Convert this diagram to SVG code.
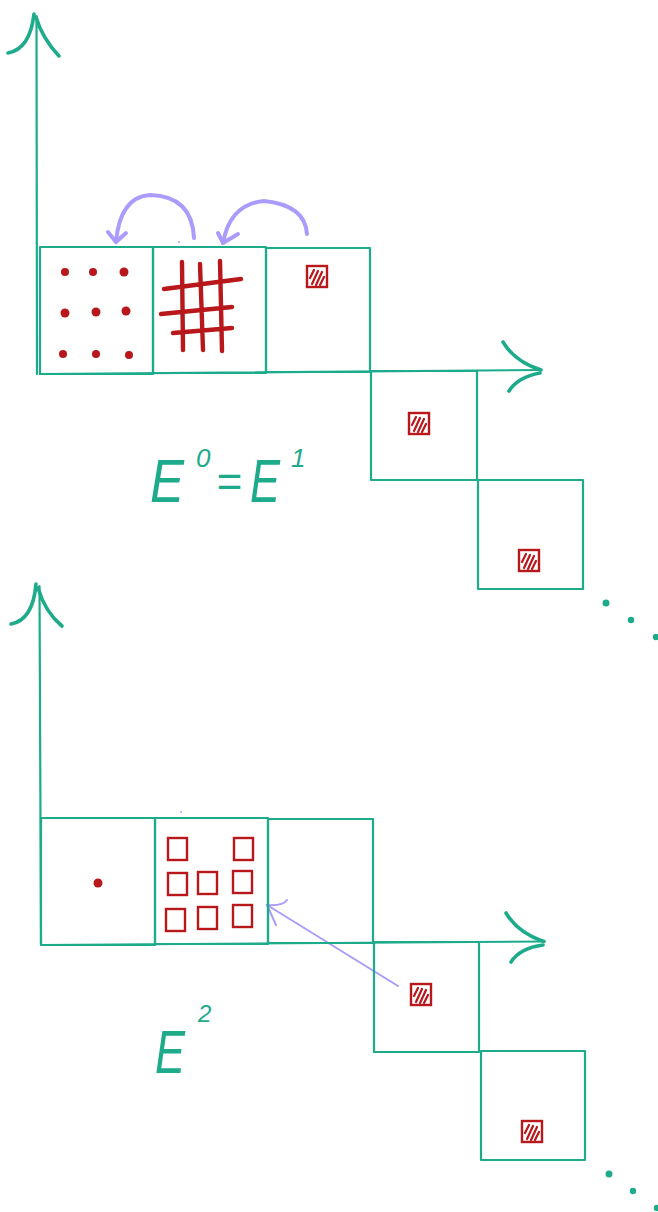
<svg xmlns="http://www.w3.org/2000/svg" width="658" height="1212" viewBox="0 0 658 1212">
<style>
.box{fill:none;stroke:#1dab8b;stroke-width:2.2;stroke-linejoin:round}
.axis{fill:none;stroke:#1dab8b;stroke-width:2.2;stroke-linecap:round}
.wing{fill:none;stroke:#1dab8b;stroke-width:3.6;stroke-linecap:round}
.dot{fill:#b8171b}
.tdot{fill:#1dab8b}
.grid{fill:none;stroke:#b8171b;stroke-width:4.4;stroke-linecap:round}
.sq{fill:none;stroke:#b8171b;stroke-width:2.4}
.arc{fill:none;stroke:#ac9bfc;stroke-width:4;stroke-linecap:round;stroke-linejoin:round}
.thin{fill:none;stroke:#ac9bfc;stroke-width:2;stroke-linecap:round}
.lbl{fill:#1dab8b;font-family:'Liberation Sans',Arial,sans-serif;font-style:italic}
</style>
<defs>
<symbol id="hatch" viewBox="0 0 20 21" overflow="visible">
<rect x="0" y="0" width="20" height="21" fill="#fff" stroke="#b8171b" stroke-width="2.4"/>
<path d="M3,12 L7,4 M5,18 L11,5 M9,19 L15,6 M13,19 L17,11" stroke="#b8171b" stroke-width="2.2" stroke-linecap="round"/>
</symbol>
</defs>

<g id="connectors">
<g id="top-y-axis">
<path class="axis" d="M37,374 L36.5,16"/>
<path class="wing" d="M8,53 Q30,49 34,14"/>
<path class="wing" d="M36,17 Q42,38 59,56"/>
</g>
<g id="top-x-axis">
<path class="axis" d="M40,374 L541,370"/>
<path class="wing" d="M503,342 Q515,362 541,370"/>
<path class="wing" d="M509,391 Q518,377 540,373"/>
</g>
<g id="bottom-y-axis">
<path class="axis" d="M41,944 L39.5,586"/>
<path class="wing" d="M11,624 Q33,620 36,584"/>
<path class="wing" d="M38,588 Q45,612 62,626"/>
</g>
<g id="bottom-x-axis">
<path class="axis" d="M42,945 L544,941.5"/>
<path class="wing" d="M506,913 Q518,933 544,941.5"/>
<path class="wing" d="M511,962 Q520,948 543,945"/>
</g>
<g id="arc-1">
<path class="arc" d="M194,238 Q192,196 150,195 Q120,197 116,242"/>
<path class="arc" d="M108,232 L116,242 L126,233"/>
</g>
<g id="arc-2">
<path class="arc" d="M307,234 Q305,205 264,201 Q230,204 223,243"/>
<path class="arc" d="M218,233 L223,243 L238,234"/>
</g>
<g id="arrow-3">
<path class="thin" d="M398,986 L267,905"/>
<path class="thin" d="M276,925 L267,905 Q283,906 287,900" stroke-width="2.8"/>
</g>
<circle cx="179" cy="242" r="1" fill="#ac9bfc"/>
<circle cx="181" cy="812" r="1" fill="#ac9bfc"/>
</g>

<g id="top-box-1">
<rect class="box" x="40" y="247" width="113" height="127"/>
<circle class="dot" cx="65" cy="272" r="4"/>
<circle class="dot" cx="93" cy="272" r="4"/>
<circle class="dot" cx="124" cy="272" r="4.5"/>
<circle class="dot" cx="65" cy="313" r="4.5"/>
<circle class="dot" cx="96" cy="312" r="4.5"/>
<circle class="dot" cx="126" cy="311" r="4.5"/>
<circle class="dot" cx="63" cy="354" r="4"/>
<circle class="dot" cx="96" cy="354" r="4"/>
<circle class="dot" cx="129" cy="355" r="4"/>
</g>
<g id="top-box-2">
<rect class="box" x="153" y="247" width="113" height="126"/>
<path class="grid" d="M182,262 L183,350 M200,264 L203,350 M220,261 L222,351 M164,289 L241,279 M161,314 L232,307 M173,333 L232,328"/>
</g>
<g id="top-box-3">
<rect class="box" x="266" y="248" width="104" height="124"/>
<use href="#hatch" x="307" y="266" width="20" height="21"/>
</g>
<g id="top-box-4">
<rect class="box" x="371" y="371" width="106" height="109"/>
<use href="#hatch" x="409" y="413" width="20" height="21"/>
</g>
<g id="top-box-5">
<rect class="box" x="478" y="480" width="105" height="109"/>
<use href="#hatch" x="519" y="550" width="20" height="21"/>
</g>
<g id="top-ellipsis">
<circle class="tdot" cx="606" cy="603" r="3.5"/>
<circle class="tdot" cx="631" cy="620" r="3.2"/>
<circle class="tdot" cx="656" cy="637" r="3.2"/>
</g>
<g id="label-e0-e1">
<text class="lbl" font-size="62"><tspan x="150" y="502" textLength="34" lengthAdjust="spacingAndGlyphs">E</tspan><tspan x="196" y="467" font-size="26">0</tspan><tspan x="216" y="497" font-size="44">=</tspan><tspan x="250" y="502" textLength="30" lengthAdjust="spacingAndGlyphs">E</tspan><tspan x="291" y="467" font-size="26">1</tspan></text>
</g>

<g id="bottom-box-1">
<rect class="box" x="41" y="818" width="114" height="127"/>
<circle class="dot" cx="98" cy="883" r="4.5"/>
</g>
<g id="bottom-box-2">
<rect class="box" x="155" y="818" width="113" height="126"/>
<rect class="sq" x="168" y="838" width="19" height="22"/>
<rect class="sq" x="234" y="838" width="19" height="22"/>
<rect class="sq" x="168" y="873" width="19" height="22"/>
<rect class="sq" x="198" y="872" width="19" height="22"/>
<rect class="sq" x="233" y="871" width="19" height="22"/>
<rect class="sq" x="166" y="909" width="19" height="22"/>
<rect class="sq" x="198" y="907" width="19" height="22"/>
<rect class="sq" x="233" y="905" width="19" height="22"/>
</g>
<g id="bottom-box-3">
<rect class="box" x="268" y="819" width="105" height="124"/>
</g>
<g id="bottom-box-4">
<rect class="box" x="374" y="942" width="105" height="110"/>
<use href="#hatch" x="411" y="984" width="20" height="21"/>
</g>
<g id="bottom-box-5">
<rect class="box" x="481" y="1051" width="104" height="109"/>
<use href="#hatch" x="522" y="1121" width="20" height="21"/>
</g>
<g id="bottom-ellipsis">
<circle class="tdot" cx="609" cy="1174" r="3.5"/>
<circle class="tdot" cx="633" cy="1191" r="3.2"/>
<circle class="tdot" cx="657" cy="1208" r="3.2"/>
</g>
<g id="label-e2">
<text class="lbl" font-size="62"><tspan x="155" y="1073" textLength="30" lengthAdjust="spacingAndGlyphs">E</tspan><tspan x="198" y="1022" font-size="24">2</tspan></text>
</g>
</svg>
